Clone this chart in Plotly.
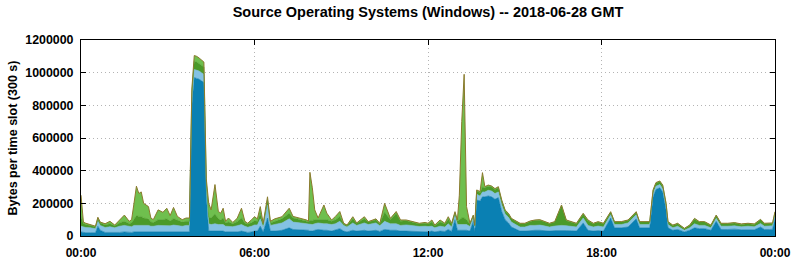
import plotly.graph_objects as go
import pandas as pd

# sample times (minutes after 00:00 GMT, 2018-06-28)
minutes = [0, 5, 10, 20, 30, 35, 40, 50, 60, 70, 80, 90, 100, 105, 110, 115, 120, 125, 130, 140,
           145, 150, 160, 170, 178, 185, 192, 200, 210, 218, 225, 230, 235, 240, 245, 250, 255, 260, 265, 270,
           278, 285, 290, 295, 300, 306, 315, 324, 333, 340, 346, 354, 360, 366, 372, 378, 387, 393, 402, 417,
           432, 440, 456, 468, 472, 475, 480, 485, 492, 504, 510, 520, 528, 537, 545, 552, 564, 572, 588, 596,
           612, 620, 630, 642, 654, 663, 675, 690, 702, 714, 720, 728, 734, 745, 755, 762, 769, 776, 781, 785,
           790, 795, 800, 807, 814, 817, 821, 828, 833, 838, 845, 852, 859, 866, 873, 880, 887, 893, 900, 911,
           921, 932, 942, 952, 963, 972, 983, 997, 1007, 1018, 1028, 1042, 1052, 1063, 1073, 1084, 1099, 1107, 1121, 1135,
           1152, 1159, 1169, 1180, 1187, 1193, 1201, 1207, 1214, 1218, 1228, 1238, 1252, 1263, 1273, 1283, 1294, 1307, 1318, 1328,
           1342, 1356, 1370, 1384, 1397, 1410, 1418, 1429, 1435, 1440]

# bytes per slot, in thousands
blue = [25, 22, 20, 20, 20, 60, 35, 22, 22, 20, 22, 25, 22, 22, 25, 25, 25, 25, 25, 25,
        22, 22, 25, 25, 25, 22, 25, 25, 22, 25, 25, 800, 970, 965, 960, 950, 940, 250, 30, 30,
        30, 30, 28, 30, 25, 25, 22, 25, 30, 25, 22, 25, 30, 30, 60, 25, 110, 30, 30, 35,
        50, 40, 38, 35, 35, 30, 30, 35, 40, 35, 35, 30, 35, 45, 30, 25, 35, 30, 35, 30,
        35, 28, 40, 35, 35, 30, 30, 28, 25, 25, 25, 30, 25, 30, 28, 40, 28, 100, 35, 35,
        35, 35, 35, 30, 90, 25, 220, 215, 240, 240, 245, 240, 225, 235, 150, 100, 80, 55, 45, 30,
        30, 35, 35, 35, 33, 30, 33, 35, 33, 32, 30, 80, 35, 30, 33, 30, 110, 50, 50, 55,
        105, 50, 50, 50, 240, 285, 295, 270, 160, 50, 35, 40, 25, 35, 50, 45, 45, 35, 90, 40,
        40, 42, 38, 40, 38, 55, 40, 40, 42, 110]
light_blue = [35, 33, 32, 30, 25, 30, 30, 30, 35, 30, 38, 40, 35, 35, 40, 40, 40, 40, 40, 40,
              38, 38, 40, 40, 40, 40, 42, 40, 38, 40, 40, 40, 50, 50, 50, 50, 50, 45, 45, 40,
              45, 40, 40, 40, 35, 35, 35, 38, 40, 35, 32, 35, 38, 38, 45, 30, 80, 35, 40, 45,
              55, 45, 42, 40, 38, 40, 40, 40, 40, 40, 40, 40, 40, 45, 35, 30, 45, 35, 45, 40,
              45, 35, 50, 40, 40, 35, 38, 35, 33, 35, 33, 30, 25, 30, 27, 35, 27, 25, 35, 35,
              35, 35, 35, 28, 25, 25, 35, 30, 30, 30, 35, 35, 35, 35, 40, 35, 35, 30, 30, 25,
              25, 30, 30, 32, 28, 25, 28, 30, 30, 28, 25, 30, 30, 25, 28, 25, 20, 20, 20, 25,
              25, 20, 20, 20, 20, 20, 20, 20, 20, 20, 15, 20, 10, 15, 25, 20, 20, 15, 18, 20,
              20, 20, 18, 20, 18, 22, 20, 20, 20, 20]
dark_green = [60, 20, 18, 15, 12, 15, 15, 15, 18, 12, 20, 25, 20, 22, 40, 60, 55, 55, 45, 40,
              25, 22, 35, 35, 40, 30, 40, 30, 25, 25, 25, 40, 50, 50, 45, 45, 45, 35, 40, 40,
              60, 35, 30, 40, 20, 25, 18, 25, 40, 20, 18, 22, 25, 22, 35, 15, 30, 15, 20, 25,
              35, 25, 20, 18, 15, 25, 25, 25, 20, 25, 25, 20, 25, 30, 10, 10, 25, 13, 25, 15,
              20, 12, 55, 25, 65, 25, 25, 20, 15, 18, 15, 25, 12, 25, 18, 28, 18, 15, 20, 30,
              40, 40, 30, 15, 10, 12, 20, 20, 30, 25, 25, 25, 25, 25, 25, 20, 20, 20, 20, 20,
              20, 24, 30, 30, 25, 20, 25, 120, 30, 25, 20, 25, 28, 20, 24, 20, 15, 15, 15, 15,
              15, 15, 15, 15, 18, 18, 18, 18, 17, 15, 14, 15, 10, 14, 28, 20, 20, 14, 17, 15,
              15, 17, 15, 15, 15, 22, 15, 15, 15, 16]
light_green = [130, 10, 8, 5, 3, 10, 5, 8, 15, 5, 18, 38, 13, 21, 95, 180, 140, 150, 90, 75,
               25, 18, 60, 45, 65, 33, 68, 25, 15, 20, 20, 20, 35, 35, 35, 35, 30, 20, 85, 50,
               180, 45, 42, 60, 10, 25, 8, 20, 60, 10, 6, 18, 25, 15, 40, 8, 20, 10, 15, 13,
               30, 10, 8, 5, 2, 295, 200, 60, 10, 90, 40, 8, 20, 30, 3, 2, 13, 2, 13, 3,
               5, 3, 55, 8, 10, 8, 5, 5, 5, 5, 5, 13, 5, 13, 5, 15, 5, 9, 8, 150,
               590, 880, 80, 5, 3, 5, 7, 7, 88, 7, 7, 6, 5, 7, 5, 4, 4, 3, 3, 3,
               3, 3, 3, 3, 2, 3, 2, 5, 5, 3, 3, 4, 5, 3, 3, 3, 4, 3, 3, 3,
               4, 3, 3, 3, 4, 4, 4, 4, 3, 3, 3, 3, 2, 3, 5, 3, 3, 3, 3, 3,
               3, 3, 3, 3, 3, 3, 3, 3, 3, 3]

times = pd.Timestamp("2018-06-28 00:00") + pd.to_timedelta(minutes, unit="min")

layers = [
    ("blue", blue, "#0a80b3", "#0a78a8"),
    ("light blue", light_blue, "#84c2e3", "#78b8da"),
    ("dark green", dark_green, "#4b9a29", "#4b9a29"),
    ("light green", light_green, "#6fbf4e", "#8a7a2c"),
]

fig = go.Figure()
for name, vals, fc, lc in layers:
    fig.add_trace(go.Scatter(
        x=times, y=[v * 1000 for v in vals], name=name, mode="lines",
        stackgroup="one", fillcolor=fc,
        line=dict(color=lc, width=1 if name == "light green" else 0.6),
        showlegend=False,
    ))

FAM = "Liberation Sans, Arial, sans-serif"
xfont = dict(family=FAM, size=12, color="black", weight="bold")
yfont = dict(family=FAM, size=12.4, color="black", weight="bold")
fig.update_layout(
    width=794, height=260,
    margin=dict(l=81, r=19, t=40, b=24),
    paper_bgcolor="white", plot_bgcolor="white",
    font=xfont,
    title=dict(text="Source Operating Systems (Windows) -- 2018-06-28 GMT",
               x=0.5, xref="paper", y=0.955, yanchor="middle",
               font=dict(family=FAM, size=14.5, color="black", weight="bold")),
)
grid = dict(showgrid=True, gridcolor="#b4b4b4", griddash="1px,3px", gridwidth=1)
fig.update_xaxes(
    range=["2018-06-28 00:00", "2018-06-29 00:00"], type="date",
    dtick=6 * 3600 * 1000, tick0="2018-06-28 00:00", tickformat="%H:%M",
    showline=True, linecolor="black", linewidth=1, mirror="ticks",
    ticks="inside", ticklen=5, tickcolor="black", ticklabelstandoff=6,
    zeroline=False, tickfont=xfont, automargin=False, **grid,
)
fig.update_yaxes(
    range=[0, 1200000], dtick=200000, tickformat="d",
    showline=True, linecolor="black", linewidth=1, mirror="ticks",
    ticks="inside", ticklen=5, tickcolor="black", ticklabelstandoff=4,
    zeroline=False, tickfont=yfont, automargin=False, **grid,
    title=dict(text="Bytes per time slot (300 s)", standoff=4,
               font=dict(family=FAM, size=12.5, color="black", weight="bold")),
)
fig.write_html("out.html")
